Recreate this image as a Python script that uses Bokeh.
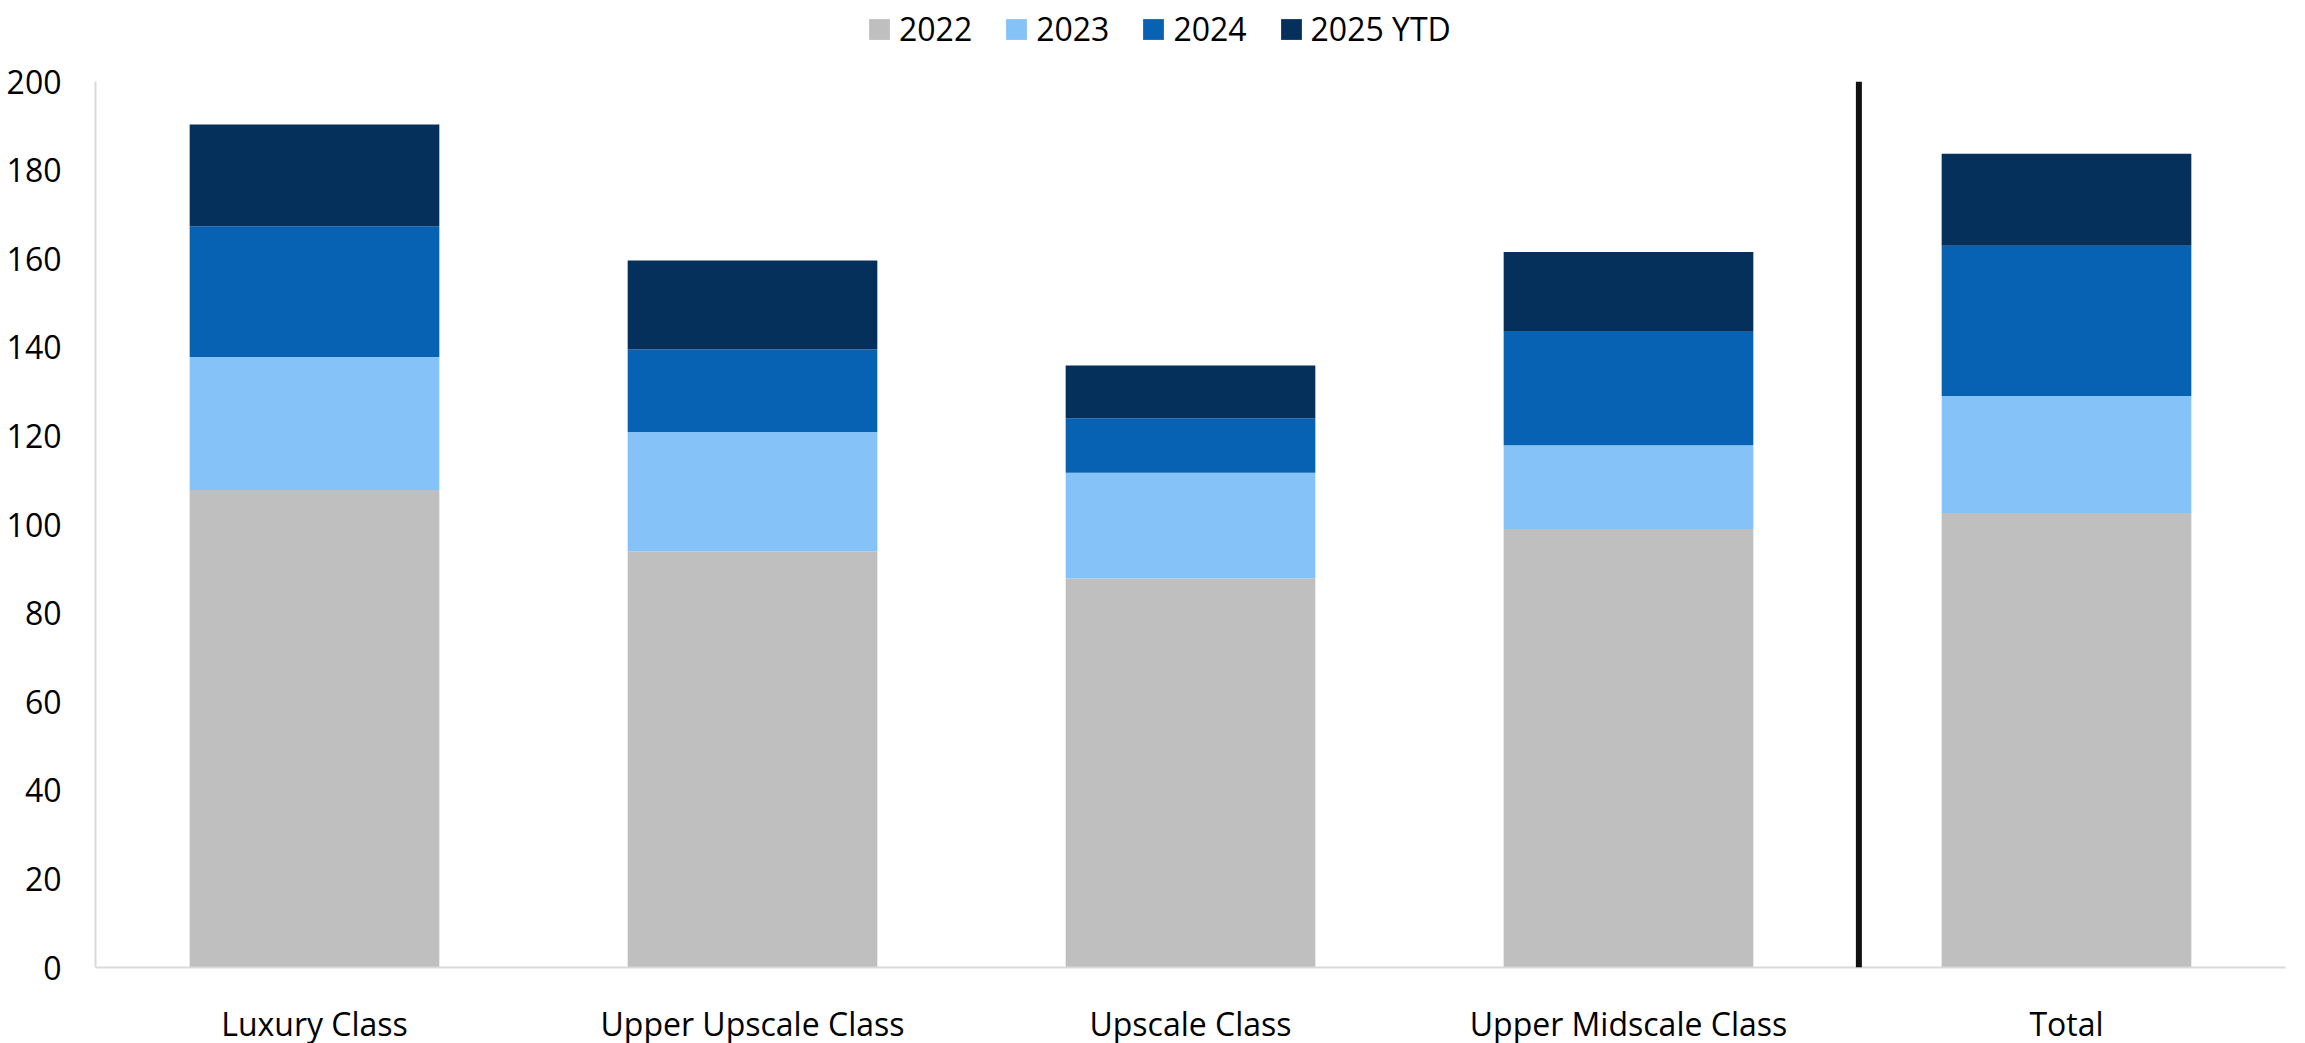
from bokeh.plotting import figure
from bokeh.layouts import column
from bokeh.models import FactorRange, Range1d, Span, Legend, LegendItem, FixedTicker
from bokeh.embed import file_html
from bokeh.resources import INLINE

categories = ["Luxury Class", "Upper Upscale Class", "Upscale Class", "Upper Midscale Class", "Total"]
years = ["2022", "2023", "2024", "2025 YTD"]
v2022 = [107.8, 93.9, 87.8, 99.0, 102.6]
v2023 = [30.0, 27.0, 23.9, 18.9, 26.4]
v2024 = [29.5, 18.6, 12.3, 25.6, 33.9]
v2025 = [23.0, 20.1, 11.9, 18.0, 20.8]
colors = ["#BFBFBF", "#85C2F7", "#0862B3", "#05305B"]
y_ticks = [0, 20, 40, 60, 80, 100, 120, 140, 160, 180, 200]

FONT = "Open Sans"

data = {"cat": categories, "2022": v2022, "2023": v2023, "2024": v2024, "2025 YTD": v2025}

# ---- legend strip (separate canvas so it sits at the very top) ----
lg = figure(width=2289, height=56, output_backend="svg", toolbar_location=None,
            x_range=Range1d(0, 1), y_range=Range1d(0, 1), min_border=0,
            x_axis_location=None, y_axis_location=None)
lg.grid.grid_line_color = None
lg.outline_line_color = None
# swatch renderers for the legend only: placed outside the visible range
dummies = [lg.quad(left=[5], right=[6], bottom=[5], top=[6], fill_color=c, line_color=None)
           for c in colors]
legend = Legend(items=[LegendItem(label=y, renderers=[r]) for y, r in zip(years, dummies)],
                orientation="horizontal", location=(771, 6),
                label_text_font=FONT, label_text_font_size="32px", label_text_color="black",
                glyph_width=26, glyph_height=26, spacing=31, label_standoff=7,
                border_line_color=None, background_fill_alpha=0, padding=0, margin=0)
lg.add_layout(legend, "center")

# ---- main chart ----
p = figure(x_range=FactorRange(*categories, range_padding=0), y_range=Range1d(0, 200),
           frame_width=2190, frame_height=886, output_backend="svg", toolbar_location=None,
           min_border_left=95, min_border_right=4, min_border_top=25, min_border_bottom=68)

rs = p.vbar_stack(years, x="cat", width=0.57, color=colors, line_color=None, source=data)

p.add_layout(Span(location=4.026, dimension="height", line_color="#111111", line_width=6))

p.xgrid.grid_line_color = None
p.ygrid.grid_line_color = None
p.outline_line_color = None

p.yaxis.ticker = FixedTicker(ticks=y_ticks)
for ax in (p.xaxis, p.yaxis):
    ax.axis_line_color = "#D9D9D9"
    ax.axis_line_width = 2
    ax.major_tick_line_color = None
    ax.minor_tick_line_color = None
    ax.major_label_text_font = FONT
    ax.major_label_text_font_size = "32px"
    ax.major_label_text_color = "black"
p.yaxis.major_label_standoff = 28
p.xaxis.major_label_standoff = 28

layout = column(lg, p, spacing=0)
open("out.html", "w").write(file_html(layout, INLINE))
